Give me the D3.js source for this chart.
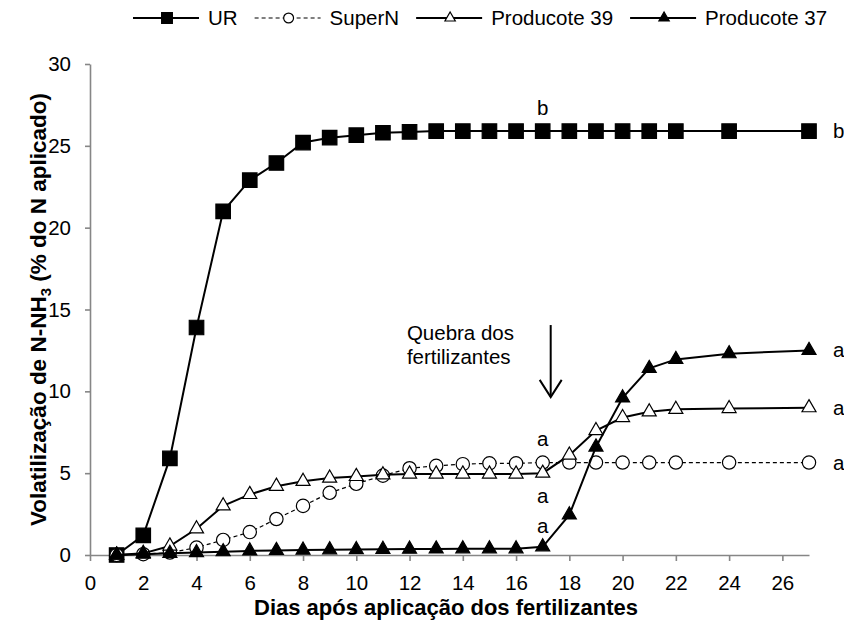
<!DOCTYPE html>
<html>
<head>
<meta charset="utf-8">
<script src="https://cdn.jsdelivr.net/npm/d3@7"></script>
<style>
  body { margin: 0; background: #fff; }
  svg { font-family: "Liberation Sans", Arial, sans-serif; }
</style>
</head>
<body>
<svg width="844" height="623"></svg>
<script>
// days with measurements
var days = [1, 2, 3, 4, 5, 6, 7, 8, 9, 10, 11, 12, 13, 14, 15, 16, 17, 18, 19, 20, 21, 22, 24, 27];

// cumulative N-NH3 volatilization (% of applied N)
var ur = [0, 1.2, 5.9, 13.9, 21.0, 22.9, 23.95, 25.2, 25.5, 25.65, 25.8, 25.85, 25.9, 25.9, 25.9, 25.9, 25.9, 25.9, 25.9, 25.9, 25.9, 25.9, 25.9, 25.9];
var superN = [0, 0.05, 0.15, 0.45, 0.92, 1.4, 2.2, 3.0, 3.8, 4.35, 4.85, 5.3, 5.45, 5.55, 5.6, 5.6, 5.65, 5.65, 5.65, 5.65, 5.65, 5.65, 5.65, 5.65];
var producote39 = [0, 0.1, 0.55, 1.6, 3.0, 3.7, 4.2, 4.5, 4.7, 4.8, 4.9, 4.95, 4.95, 4.95, 4.95, 4.95, 5.0, 6.1, 7.6, 8.4, 8.75, 8.9, 8.95, 9.0];
var producote37 = [0, 0.05, 0.1, 0.15, 0.2, 0.25, 0.28, 0.3, 0.32, 0.33, 0.35, 0.36, 0.37, 0.38, 0.38, 0.38, 0.5, 2.45, 6.6, 9.6, 11.4, 11.95, 12.3, 12.5];

var seriesNames = ["UR", "SuperN", "Producote 39", "Producote 37"];

// tick values
var xTicks = [0, 2, 4, 6, 8, 10, 12, 14, 16, 18, 20, 22, 24, 26];
var yTicks = [0, 5, 10, 15, 20, 25, 30];

// letters of the statistical test (day 17 column and end of each curve)
var midLetters = ["b", "a", "a", "a"];
var midLetterValues = [26.9, 6.66, 3.18, 1.34];
var endLetters = ["b", "a", "a", "a"];

var svg = d3.select("svg");
var axisColor = "#868686";

var xScale = d3.scaleLinear([0, 27], [90, 809]);
var yScale = d3.scaleLinear([0, 30], [555, 64]);

//  build series table from the arrays
var series = [
  { name: seriesNames[0], values: ur, symbol: d3.symbolSquare, size: 210, fill: "#000", dash: null, width: 2 },
  { name: seriesNames[1], values: superN, symbol: d3.symbolCircle, size: 140, fill: "#fff", dash: "4,3", width: 1.2 },
  { name: seriesNames[2], values: producote39, symbol: d3.symbolTriangle, size: 85, fill: "#fff", dash: null, width: 2 },
  { name: seriesNames[3], values: producote37, symbol: d3.symbolTriangle, size: 85, fill: "#000", dash: null, width: 2 }
];

//  axes
var xAxis = d3.axisBottom(xScale).tickValues(xTicks).tickSize(6).tickSizeOuter(0).tickPadding(14);
var yAxis = d3.axisLeft(yScale).tickValues(yTicks).tickSize(5).tickSizeOuter(0).tickPadding(14);

var gx = svg.append("g").attr("transform", "translate(0," + yScale(0) + ")").call(xAxis);
var gy = svg.append("g").attr("transform", "translate(" + xScale(0) + ",0)").call(yAxis);

[gx, gy].forEach(function (g) {
  g.select(".domain").attr("stroke", axisColor).attr("stroke-width", 1.6);
  g.selectAll(".tick line").attr("stroke", axisColor).attr("stroke-width", 1.6);
  g.selectAll(".tick text")
    .attr("fill", "#000")
    .style("font-size", "20.5px")
    .style("font-family", "'Liberation Sans', Arial, sans-serif");
});

//  axis titles
svg.append("text")
  .attr("x", 446)
  .attr("y", 615)
  .attr("text-anchor", "middle")
  .style("font-weight", "bold")
  .style("font-size", "22px")
  .text("Dias após aplicação dos fertilizantes");

var yTitle = svg.append("text")
  .attr("transform", "translate(46," + (yScale(0) + yScale(30)) / 2 + ") rotate(-90)")
  .attr("text-anchor", "middle")
  .style("font-weight", "bold")
  .style("font-size", "22.5px");
yTitle.append("tspan").text("Volatilização de N-NH");
yTitle.append("tspan").attr("dy", 5).style("font-size", "15px").text("3");
yTitle.append("tspan").attr("dy", -5).text(" (% do N aplicado)");

//  lines and markers
var line = d3.line()
  .x(function (d, i) { return xScale(days[i]); })
  .y(function (d) { return yScale(d); });

series.forEach(function (s) {
  svg.append("path")
    .datum(s.values)
    .attr("d", line)
    .attr("fill", "none")
    .attr("stroke", "#000")
    .attr("stroke-width", s.width)
    .attr("stroke-dasharray", s.dash);

  svg.selectAll(null)
    .data(s.values)
    .enter()
    .append("path")
    .attr("transform", function (d, i) {
      return "translate(" + xScale(days[i]) + "," + yScale(d) + ")";
    })
    .attr("d", d3.symbol().type(s.symbol).size(s.size))
    .attr("fill", s.fill)
    .attr("stroke", "#000")
    .attr("stroke-width", 1.2);
});

//  letters
svg.selectAll(null)
  .data(midLetters)
  .enter()
  .append("text")
  .attr("x", xScale(17))
  .attr("y", function (d, i) { return yScale(midLetterValues[i]); })
  .attr("text-anchor", "middle")
  .style("font-size", "20.5px")
  .text(function (d) { return d; });

svg.selectAll(null)
  .data(endLetters)
  .enter()
  .append("text")
  .attr("x", xScale(27) + 24)
  .attr("y", function (d, i) {
    var v = series[i].values;
    return yScale(v[v.length - 1]) + 7;
  })
  .style("font-size", "20.5px")
  .text(function (d) { return d; });

//  "Quebra dos fertilizantes" note with arrow
var note = svg.append("text")
  .attr("x", xScale(11.9))
  .attr("y", 340)
  .style("font-size", "20.5px");
note.append("tspan").text("Quebra dos");
note.append("tspan").attr("x", xScale(11.9)).attr("dy", 24).text("fertilizantes");

var ax = xScale(17.3);
svg.append("line")
  .attr("x1", ax).attr("x2", ax)
  .attr("y1", yScale(14.05)).attr("y2", yScale(9.65))
  .attr("stroke", "#000").attr("stroke-width", 2);
svg.append("polyline")
  .attr("points", [[ax - 11, yScale(10.7)], [ax, yScale(9.65)], [ax + 11, yScale(10.7)]].join(" "))
  .attr("fill", "none").attr("stroke", "#000").attr("stroke-width", 2);

//  legend across the top
var legend = svg.append("g").attr("transform", "translate(133,18)");
var lx = 0;
series.forEach(function (s) {
  legend.append("line")
    .attr("x1", lx).attr("x2", lx + 66)
    .attr("stroke", "#000")
    .attr("stroke-width", s.width)
    .attr("stroke-dasharray", s.dash);
  legend.append("path")
    .attr("transform", "translate(" + (lx + 34) + ",0)")
    .attr("d", d3.symbol().type(s.symbol).size(s.size * 0.55))
    .attr("fill", s.fill)
    .attr("stroke", "#000")
    .attr("stroke-width", 1.2);
  var t = legend.append("text")
    .attr("x", lx + 75)
    .attr("y", 7)
    .style("font-size", "20.5px")
    .text(s.name);
  lx += 75 + t.node().getComputedTextLength() + 17;
});
</script>
</body>
</html>
